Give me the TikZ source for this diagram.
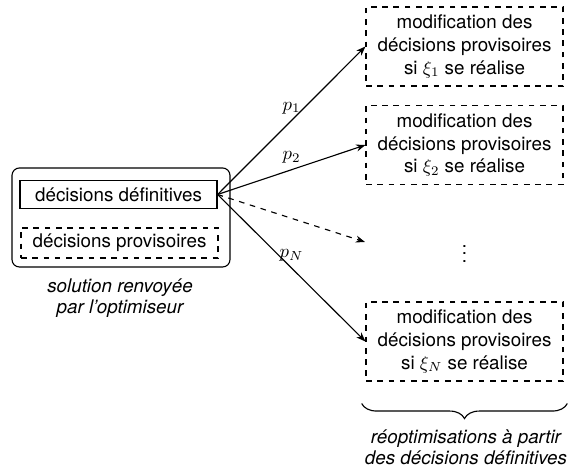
\documentclass[tikz,border=0pt]{standalone}
\usepackage[no-math]{fontspec}
\setmainfont{TeX Gyre Heros}
\usetikzlibrary{arrows.meta, positioning, decorations.pathreplacing}

\begin{document}
\begin{tikzpicture}[
    x=0.532pt, y=-0.532pt,
    boite/.style={draw, semithick, minimum width=104.8pt, minimum height=14.5pt, inner sep=2pt},
    provis/.style={boite, dashed, minimum height=16pt},
    modif/.style={draw, dashed, semithick, align=center, minimum width=104.8pt, minimum height=42pt},
    legende/.style={align=center, font=\itshape},
    fleche/.style={-{Stealth[length=5pt]}, semithick}
  ]
  \useasboundingbox (0,0) rectangle (568,473);
  % solution de l'optimiseur
  \node[draw, semithick, rounded corners=4pt, minimum width=116pt, minimum height=52.7pt] (sol) at (121,217.5) {};
  \node[boite]  (def)  at (118.5,194.5) {décisions définitives};
  \node[provis] (prov) at (119.5,243)   {décisions provisoires};
  \node[legende] (legsol) at (120,298) {solution renvoyée\\[-0.8pt]par l'optimiseur};
  % scenarios
  \node[modif] (m1) at (464.5,46.5)  {modification des\\décisions provisoires\\si $\xi_1$ se réalise};
  \node[modif] (m2) at (464.5,145)   {modification des\\décisions provisoires\\si $\xi_2$ se réalise};
  \node        (dots) at (464.5,248) {$\vdots$};
  \node[modif] (mN) at (464.5,341.5) {modification des\\décisions provisoires\\si $\xi_N$ se réalise};
  \coordinate (fin) at (365,242);
  \draw[fleche] (def.east) -- (m1.west) node[midway, above] {$p_1$};
  \draw[fleche] (def.east) -- (m2.west) node[midway, above] {$p_2$};
  \draw[fleche, dashed] (def.east) -- (fin);
  \draw[fleche] (def.east) -- (mN.west) node[midway, above] {$p_N$};
  % accolade
  \draw[semithick, decorate, decoration={brace, mirror, amplitude=8pt}]
    ([xshift=-2pt, yshift=-11.7pt]mN.south west) -- ([xshift=2pt, yshift=-11.7pt]mN.south east);
  \node[legende] (legreo) at (466,447) {réoptimisations à partir\\[-0.8pt]des décisions définitives};
\end{tikzpicture}
\end{document}
